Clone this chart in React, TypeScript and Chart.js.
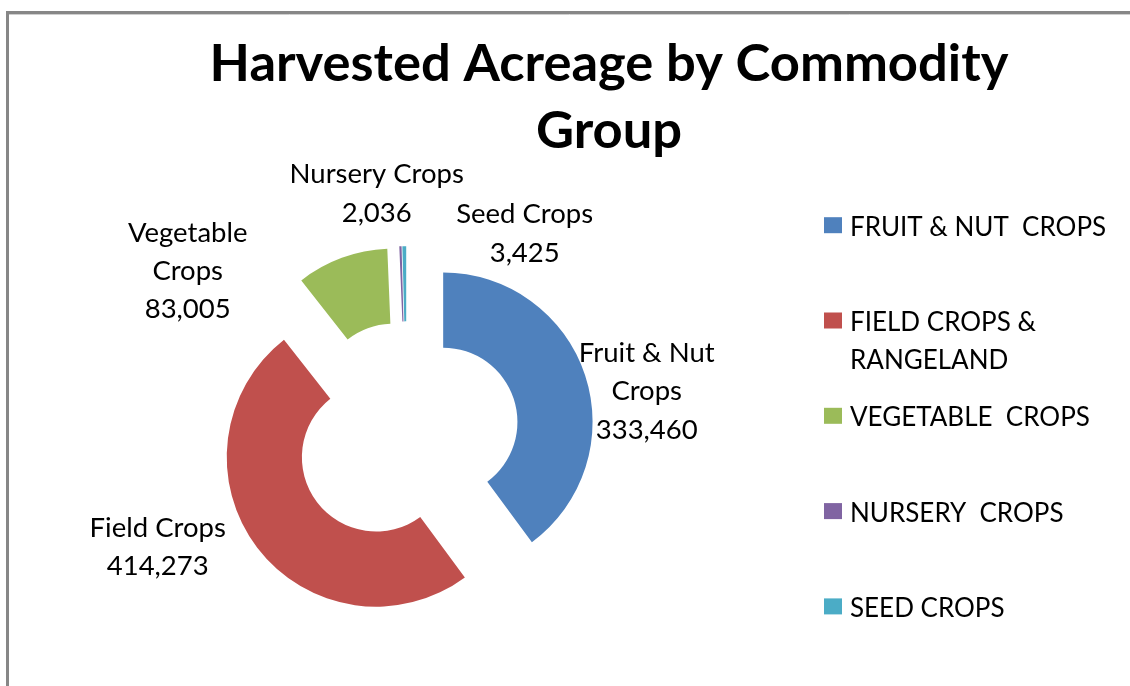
import React, { useEffect, useRef } from 'react';
import { Chart, registerables } from 'chart.js';

Chart.register(...registerables);

// ---- data ----
const categories = ['FRUIT & NUT  CROPS', 'FIELD CROPS & RANGELAND', 'VEGETABLE  CROPS', 'NURSERY  CROPS', 'SEED CROPS'];
const legendLines = [['FRUIT & NUT  CROPS'], ['FIELD CROPS &', 'RANGELAND'], ['VEGETABLE  CROPS'], ['NURSERY  CROPS'], ['SEED CROPS']];
const sliceNames = [['Fruit & Nut', 'Crops'], ['Field Crops'], ['Vegetable', 'Crops'], ['Nursery Crops'], ['Seed Crops']];
const acreage = [333460, 414273, 83005, 2036, 3425];
const titleLines = ['Harvested Acreage by Commodity', 'Group'];

// ---- styles / layout ----
const colors = ['#4F81BD', '#C0504D', '#9BBB59', '#8064A2', '#4BACC6'];
const W = 1130;
const H = 686;
const CX = 406.7;
const CY = 434;
const RADIUS = 149.4;
const EXPLODE = 38.4;
const LABEL_FONT = '27.5px Lato';
const LEGEND_FONT = '26px Lato';
const TITLE_FONT = 'bold 52.5px Lato';
const LINE_STEP = 38.3;
// first-baseline offsets of each data label from the doughnut centre
const labelOffsets = [
  { dx: 240, dy: -72 },
  { dx: -249, dy: 102.7 },
  { dx: -219, dy: -192.3 },
  { dx: -30, dy: -250.7 },
  { dx: 118, dy: -210.7 },
];

const decorPlugin = {
  id: 'decor',
  beforeDatasetDraw(chart: any, args: any) {
    const ctx = chart.ctx;
    args.meta.data.forEach((arc: any) => {
      const mid = (arc.startAngle + arc.endAngle) / 2;
      ctx.save();
      ctx.translate(Math.cos(mid) * EXPLODE, Math.sin(mid) * EXPLODE);
      arc.draw(ctx, chart.chartArea);
      ctx.restore();
    });
    return false;
  },
  afterDraw(chart: any) {
    const ctx = chart.ctx as CanvasRenderingContext2D;
    ctx.save();
    // frame
    ctx.strokeStyle = '#878787';
    ctx.lineWidth = 3;
    ctx.beginPath();
    ctx.moveTo(7.5, H);
    ctx.lineTo(7.5, 12.5);
    ctx.lineTo(W, 12.5);
    ctx.stroke();
    ctx.strokeStyle = '#cfcfcf';
    ctx.lineWidth = 1;
    ctx.beginPath();
    ctx.moveTo(9, 14.5);
    ctx.lineTo(W, 14.5);
    ctx.stroke();

    // title
    ctx.fillStyle = '#000';
    ctx.textAlign = 'center';
    ctx.textBaseline = 'alphabetic';
    ctx.font = TITLE_FONT;
    titleLines.forEach((t, i) => ctx.fillText(t, 609, 81 + i * 67));

    // legend
    ctx.textAlign = 'left';
    ctx.font = LEGEND_FONT;
    legendLines.forEach((lines, i) => {
      const base = 235.7 + i * 95.3;
      ctx.fillStyle = colors[i];
      ctx.fillRect(824, base - 18.5, 18, 16);
      ctx.fillStyle = '#000';
      lines.forEach((t, j) => ctx.fillText(t, 850, base + j * LINE_STEP));
    });

    // data labels
    const meta = chart.getDatasetMeta(0);
    ctx.textAlign = 'center';
    ctx.font = LABEL_FONT;
    ctx.fillStyle = '#000';
    meta.data.forEach((arc: any, i: number) => {
      const lines = [...sliceNames[i], acreage[i].toLocaleString('en-US')];
      const x = arc.x + labelOffsets[i].dx;
      const y = arc.y + labelOffsets[i].dy;
      lines.forEach((t, j) => ctx.fillText(t, x, y + j * LINE_STEP));
    });
    ctx.restore();
  },
};

export default function App() {
  const ref = useRef<HTMLCanvasElement | null>(null);
  useEffect(() => {
    if (!ref.current) return;
    const chart = new Chart(ref.current, {
      type: 'doughnut',
      data: {
        labels: categories,
        datasets: [
          {
            data: acreage,
            backgroundColor: colors,
            borderWidth: 0,
          },
        ],
      },
      options: {
        responsive: false,
        animation: false,
        devicePixelRatio: 1,
        cutout: '49.7%',
        layout: {
          padding: {
            left: CX - RADIUS,
            right: W - (CX + RADIUS),
            top: CY - RADIUS,
            bottom: H - (CY + RADIUS),
          },
        },
        plugins: {
          legend: { display: false },
          title: { display: false },
          tooltip: { enabled: false },
        },
        events: [],
      },
      plugins: [decorPlugin],
    });
    return () => chart.destroy();
  }, []);
  return (
    <div style={{ position: 'absolute', left: 0, top: 0, width: W, height: H, background: '#fff' }}>
      <canvas ref={ref} width={W} height={H} style={{ display: 'block' }} />
    </div>
  );
}
